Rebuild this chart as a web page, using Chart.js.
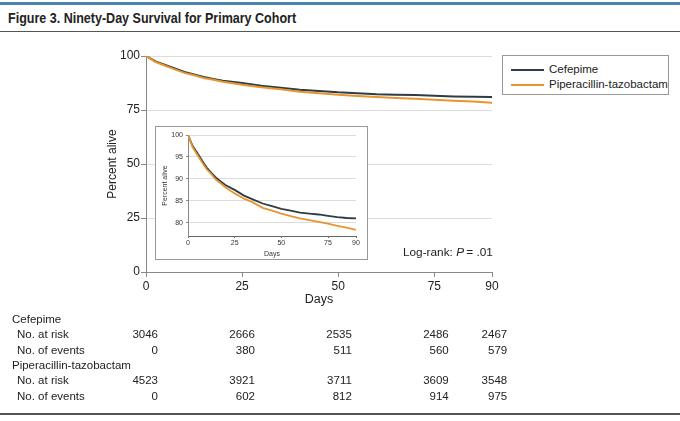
<!DOCTYPE html>
<html><head><meta charset="utf-8">
<script src="https://cdn.jsdelivr.net/npm/chart.js@4.4.1/dist/chart.umd.min.js"></script>
<style>
html,body{margin:0;padding:0;background:#fff;}
#wrap{position:relative;width:680px;height:421px;overflow:hidden;font-family:"Liberation Sans",Arial,sans-serif;color:#222;}
#topbar{position:absolute;left:0;top:2px;width:680px;height:3px;background:#4a84b0;}
#title{position:absolute;left:8px;top:8px;font-size:15px;font-weight:bold;line-height:20px;color:#222;white-space:nowrap;transform-origin:0 50%;}
#rule1{position:absolute;left:0;top:31px;width:680px;height:1px;background:#555;}
#rule2{position:absolute;left:0;top:413px;width:680px;height:1.5px;background:#555;}
#main{position:absolute;left:0;top:0;}
#insetCanvas{position:absolute;left:155px;top:126px;background:#fff;}
#insetBorder{position:absolute;left:155px;top:126px;width:213px;height:134px;box-sizing:border-box;border:1px solid #999;pointer-events:none;}
#legend{position:absolute;left:502px;top:55px;width:167px;height:40px;box-sizing:border-box;border:1px solid #999;background:#fff;}
.lg{position:absolute;left:46px;font-size:11.5px;line-height:16px;white-space:nowrap;}
.ll{position:absolute;left:8px;width:33px;height:2px;}
#logrank{position:absolute;left:403px;top:243px;font-size:11.8px;line-height:18px;white-space:nowrap;}
.rt{position:absolute;font-size:11.5px;line-height:16px;white-space:nowrap;}
.num{text-align:right;}
</style>
</head><body>
<div id="wrap">
<div id="topbar"></div>
<div id="title">Figure 3. Ninety-Day Survival for Primary Cohort</div>
<div id="rule1"></div>
<canvas id="main" width="680" height="421"></canvas>
<canvas id="insetCanvas" width="213" height="134"></canvas>
<div id="insetBorder"></div>
<div id="legend">
  <div class="ll" style="top:13px;background:#2e3c46"></div><div class="lg" style="top:5px">Cefepime</div>
  <div class="ll" style="top:28px;background:#e8952f"></div><div class="lg" style="top:20px">Piperacillin-tazobactam</div>
</div>
<div id="logrank">Log-rank: <i>P</i>&thinsp;= .01</div>
<div id="table"></div>
<div id="rule2"></div>
</div>
<script>
// ---- data ----
const days = [0, 2.5, 5, 7.5, 10, 12.5, 15, 17.5, 20, 25, 30, 35, 40, 45, 50, 55, 60, 65, 70, 75, 80, 85, 90];
const cefepime = [100, 97.5, 95.9, 94.2, 92.6, 91.4, 90.3, 89.4, 88.6, 87.5, 86.2, 85.3, 84.4, 83.8, 83.2, 82.8, 82.3, 82.1, 81.9, 81.6, 81.3, 81.1, 81.0];
const piptazo  = [100, 97.2, 95.5, 93.8, 92.2, 91.1, 89.8, 89.0, 88.1, 86.7, 85.5, 84.6, 83.4, 82.8, 82.1, 81.5, 81.0, 80.6, 80.2, 79.8, 79.3, 78.9, 78.4];
const xTicks = [0, 25, 50, 75, 90];
const yTicksMain = [0, 25, 50, 75, 100];
const yTicksInset = [80, 85, 90, 95, 100];
const riskDays = [0, 25, 50, 75, 90];
const cefAtRisk = [3046, 2666, 2535, 2486, 2467];
const cefEvents = [0, 380, 511, 560, 579];
const pipAtRisk = [4523, 3921, 3711, 3609, 3548];
const pipEvents = [0, 602, 812, 914, 975];

const DARK = '#2e3c46', ORANGE = '#e8952f';
const FONT = '"Liberation Sans", Arial, sans-serif';

// condense the title to the reference width
const t = document.getElementById('title');
t.style.transform = 'scaleX(' + (288 / t.offsetWidth) + ')';

function pts(arr){ return days.map((d,i)=>({x:d,y:arr[i]})); }
function setTicks(list){ return s => { s.ticks = list.map(v=>({value:v})); }; }

const mainChart = new Chart(document.getElementById('main'), {
  type: 'line',
  data: { datasets: [
    {label:'Cefepime', data: pts(cefepime), borderColor: DARK, borderWidth: 2, pointRadius: 0, order: 2},
    {label:'Piperacillin-tazobactam', data: pts(piptazo), borderColor: ORANGE, borderWidth: 2, pointRadius: 0, order: 1}
  ]},
  options: {
    responsive: false, animation: false, devicePixelRatio: 1,
    layout: {padding: {left: 100, right: 188, top: 56, bottom: 109}},
    plugins: {legend: {display: false}, tooltip: {enabled: false}},
    scales: {
      x: {type: 'linear', min: 0, max: 90, afterBuildTicks: setTicks(xTicks),
          afterFit: s => { s.height = 40; },
          grid: {drawOnChartArea: false, tickLength: 5, tickColor: '#888'},
          border: {color: '#888', width: 1},
          ticks: {padding: 2, color: '#222', font: {family: FONT, size: 12}},
          title: {display: true, text: 'Days', color: '#222', font: {family: FONT, size: 12.5}, padding: {top: 4, bottom: 5}}},
      y: {min: 0, max: 100, afterBuildTicks: setTicks(yTicksMain),
          afterFit: s => { s.width = 46; },
          grid: {color: '#dcdcdc', tickLength: 5, tickColor: '#888'},
          border: {color: '#888', width: 1},
          ticks: {padding: 1, color: '#222', font: {family: FONT, size: 12}},
          title: {display: true, text: 'Percent alive', color: '#222', font: {family: FONT, size: 12}, padding: {top: 5, bottom: 4}}}
    }
  }
});

const insetChart = new Chart(document.getElementById('insetCanvas'), {
  type: 'line',
  data: { datasets: [
    {label:'Cefepime', data: pts(cefepime), borderColor: DARK, borderWidth: 1.8, pointRadius: 0, order: 2},
    {label:'Piperacillin-tazobactam', data: pts(piptazo), borderColor: ORANGE, borderWidth: 1.8, pointRadius: 0, order: 1}
  ]},
  options: {
    responsive: false, animation: false, devicePixelRatio: 1,
    layout: {padding: {left: 1, right: 12, top: 9, bottom: 1}},
    plugins: {legend: {display: false}, tooltip: {enabled: false}},
    scales: {
      x: {type: 'linear', min: 0, max: 90, afterBuildTicks: setTicks(xTicks),
          afterFit: s => { s.height = 23; },
          grid: {drawOnChartArea: false, tickLength: 2, tickColor: '#666'},
          border: {color: '#666', width: 1},
          ticks: {padding: 1, color: '#333', font: {family: FONT, size: 7}},
          title: {display: true, text: 'Days', color: '#333', font: {family: FONT, size: 7}, padding: {top: 1, bottom: 1}}},
      y: {min: 77, max: 100, afterBuildTicks: setTicks(yTicksInset),
          afterFit: s => { s.width = 32; },
          grid: {color: '#dcdcdc', tickLength: 2, tickColor: '#888'},
          border: {color: '#888', width: 1},
          ticks: {padding: 3, color: '#333', font: {family: FONT, size: 7}},
          title: {display: true, text: 'Percent alive', color: '#333', font: {family: FONT, size: 7}, padding: {top: 5, bottom: 4}}}
    }
  }
});

// ---- risk table positioned from the x scale ----
const table = document.getElementById('table');
const rowY = [311, 326, 342, 357, 372, 388];
function addText(txt, left, top, cls, right){
  const d = document.createElement('div');
  d.className = 'rt' + (cls ? ' ' + cls : '');
  d.textContent = txt;
  d.style.top = top + 'px';
  if (right !== undefined) { d.style.right = (680 - right) + 'px'; }
  else d.style.left = left + 'px';
  table.appendChild(d);
}
const xs = mainChart.scales.x;
const rows = [
  {label:'Cefepime', indent:12, vals:null},
  {label:'No. at risk', indent:17, vals:cefAtRisk},
  {label:'No. of events', indent:17, vals:cefEvents},
  {label:'Piperacillin-tazobactam', indent:12, vals:null},
  {label:'No. at risk', indent:17, vals:pipAtRisk},
  {label:'No. of events', indent:17, vals:pipEvents}
];
rows.forEach((r,i)=>{
  addText(r.label, r.indent, rowY[i]);
  if (r.vals) r.vals.forEach((v,j)=>{
    addText(String(v), 0, rowY[i], 'num', xs.getPixelForValue(riskDays[j]) + 12 + j*0.8);
  });
});
</script>
</body></html>
